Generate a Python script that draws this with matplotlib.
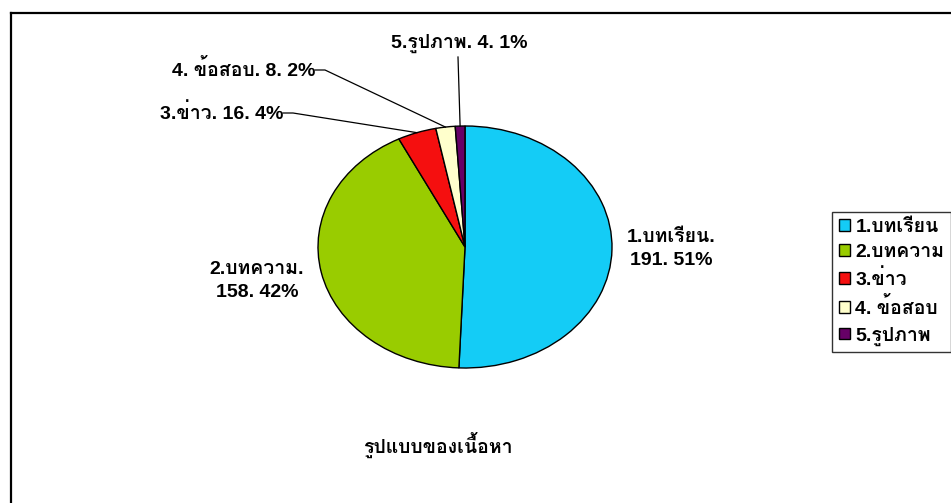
import numpy as np
import matplotlib
matplotlib.use('Agg')
import matplotlib.pyplot as plt
from matplotlib.lines import Line2D
from matplotlib.transforms import IdentityTransform

plt.rcParams['font.family'] = ['Liberation Sans', 'Loma', 'DejaVu Sans']
plt.rcParams['font.weight'] = 'bold'

# data
categories = ['1.บทเรียน', '2.บทความ', '3.ข่าว', '4. ข้อสอบ', '5.รูปภาพ']
values = [191, 158, 16, 8, 4]
colors = ['#14CCF6', '#99CC00', '#F50F0F', '#FFFFCC', '#660066']
title = 'รูปแบบของเนื้อหา'

W, H = 951, 503
fig = plt.figure(figsize=(W / 100, H / 100), dpi=100)

def fpx(x, ytop):
    # figure pixel position from a top-left origin
    return x, H - ytop

# outer frame (right and bottom run off the picture)
fig.add_artist(Line2D([11, 11], [H - 13, -5], transform=IdentityTransform(), color='black', lw=1.6))
fig.add_artist(Line2D([11, W + 5], [H - 13, H - 13], transform=IdentityTransform(), color='black', lw=1.6))

# pie, stretched into an ellipse
cx, cy, rx, ry = 465, 247, 147, 121
ax = fig.add_axes([(cx - rx) / W, (H - cy - ry) / H, 2 * rx / W, 2 * ry / H])
wedges, _ = ax.pie(values, colors=colors, startangle=90, counterclock=False,
                   wedgeprops=dict(edgecolor='black', linewidth=1))
ax.set_aspect('auto')
ax.set_xlim(-1, 1)
ax.set_ylim(-1, 1)
ax.axis('off')

total = sum(values)
pct = [round(v * 100 / total) for v in values]
fig.canvas.draw()

def edge_point(w):
    mid = np.deg2rad((w.theta1 + w.theta2) / 2)
    return ax.transData.transform((np.cos(mid), np.sin(mid)))

fs = 14
# labels beside the two big slices
x, y = fpx(671, 249)
fig.text(x / W, y / H, '%s.\n%d. %d%%' % (categories[0], values[0], pct[0]),
         ha='center', va='center', fontsize=fs, linespacing=1.45)
x, y = fpx(257, 281)
fig.text(x / W, y / H, '%s.\n%d. %d%%' % (categories[1], values[1], pct[1]),
         ha='center', va='center', fontsize=fs, linespacing=1.45)

# labels with leader lines
for i, (tx, ty) in zip([2, 3], [(283, 113), (315, 70)]):
    x, y = fpx(tx, ty)
    fig.text(x / W, y / H, '%s. %d. %d%%' % (categories[i], values[i], pct[i]),
             ha='right', va='center', fontsize=fs)
    ex, ey = edge_point(wedges[i])
    fig.add_artist(Line2D([x, x + 10, ex], [y, y, ey], transform=IdentityTransform(),
                          color='black', lw=0.9))

x, y = fpx(459, 43)
fig.text(x / W, y / H, '%s. %d. %d%%' % (categories[4], values[4], pct[4]),
         ha='center', va='center', fontsize=fs)
ex, ey = edge_point(wedges[4])
fig.add_artist(Line2D([458, ex], [H - 57, ey], transform=IdentityTransform(),
                      color='black', lw=0.9))

# title under the pie
x, y = fpx(438, 445)
fig.text(x / W, y / H, title, ha='center', va='center', fontsize=fs)

# legend running off the right edge
leg = fig.legend(wedges, categories, loc='upper left', bbox_to_anchor=(832 / W, 1 - 212 / H),
                 fontsize=14, frameon=True, fancybox=False, edgecolor='black',
                 handlelength=0.55, handleheight=0.55, handletextpad=0.3,
                 labelspacing=0.42, borderpad=0.35, borderaxespad=0)
leg.get_frame().set_linewidth(1)

fig.savefig('out.png', dpi=100)
